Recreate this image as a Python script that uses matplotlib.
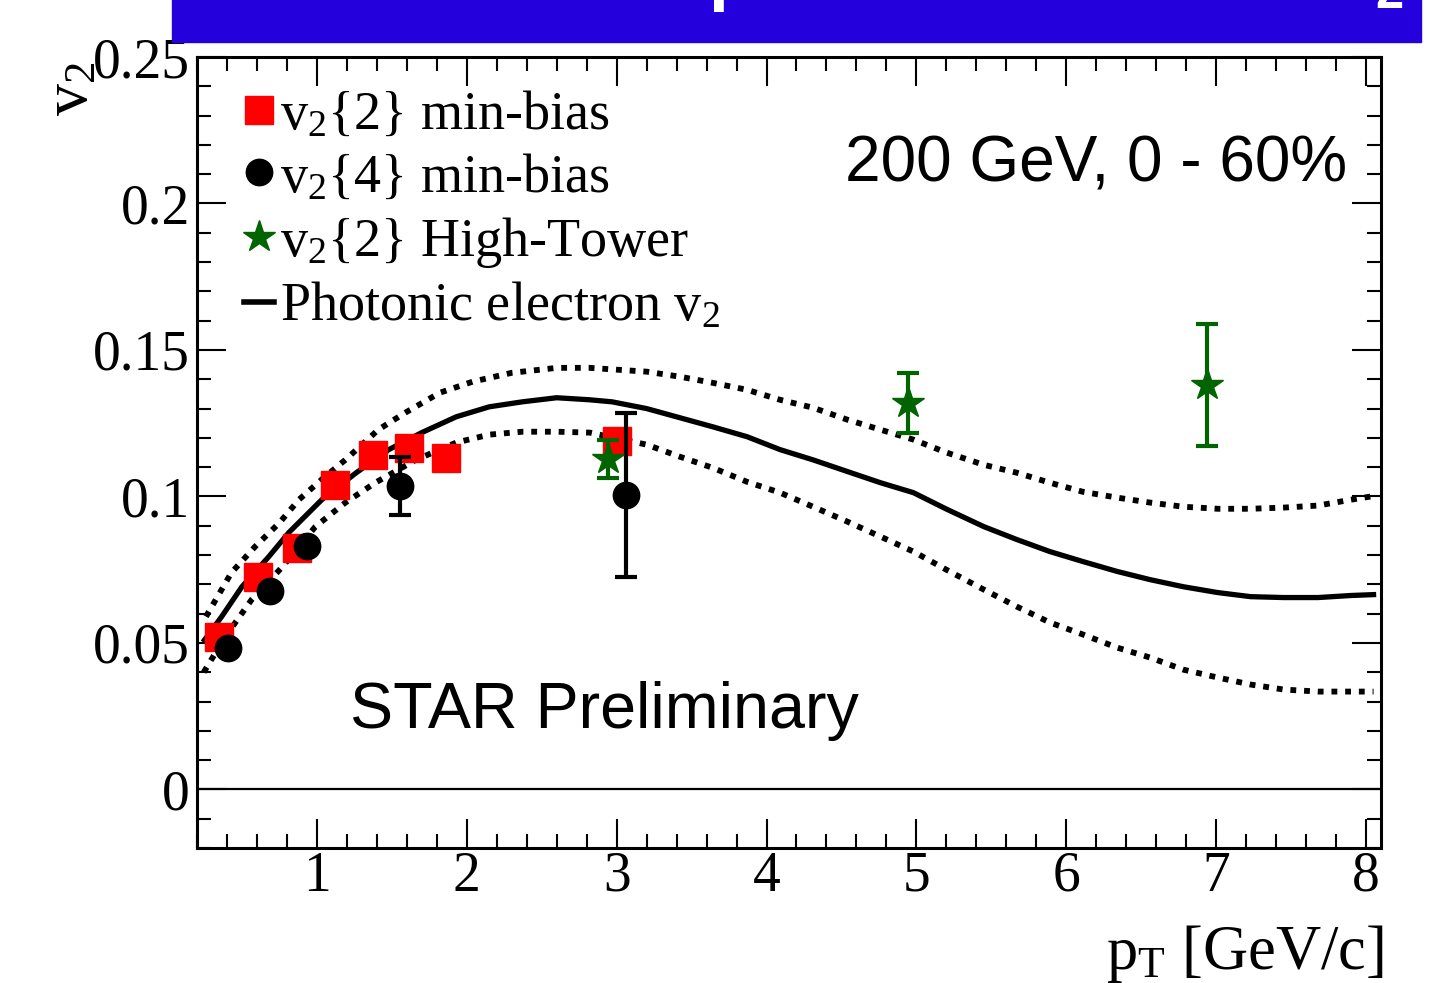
import matplotlib
matplotlib.use("Agg")
import matplotlib.pyplot as plt
from matplotlib.patches import Rectangle
from matplotlib.lines import Line2D

plt.rcParams['font.family'] = ['Liberation Serif', 'DejaVu Serif']
plt.rcParams['mathtext.default'] = 'regular'

# v2{2} min-bias (red squares)
mb2_pt = [0.345, 0.606, 0.866, 1.12, 1.374, 1.615, 1.86, 3.0]
mb2_v2 = [0.0522, 0.0726, 0.0825, 0.104, 0.114, 0.1166, 0.113, 0.119]

# v2{4} min-bias (black circles)
mb4_pt = [0.41, 0.686, 0.933, 1.555, 3.06]
mb4_v2 = [0.0484, 0.0679, 0.0832, 0.1037, 0.1004]
mb4_err = [0.0, 0.0, 0.0, 0.0099, 0.028]

# v2{2} High-Tower (green stars)
ht_pt = [2.94, 4.944, 6.94]
ht_v2 = [0.1129, 0.132, 0.138]
ht_err = [0.0065, 0.0102, 0.0208]

# photonic electron v2 band
phe_pt = [0.25, 0.365, 0.50, 0.68, 0.813, 1.033, 1.26, 1.48, 1.70, 1.93, 2.15,
          2.37, 2.60, 2.82, 2.97, 3.20, 3.42, 3.64, 3.87, 4.09, 4.31, 4.54, 4.76,
          4.98, 5.20, 5.45, 5.67, 5.89, 6.11, 6.34, 6.56, 6.78, 7.01, 7.23, 7.45,
          7.68, 7.90, 8.05]
phe_v2 = [0.051, 0.059, 0.0692, 0.0795, 0.0877, 0.0989, 0.108, 0.116, 0.1218,
          0.1272, 0.1306, 0.1323, 0.1337, 0.133, 0.1323, 0.130, 0.1269, 0.1238,
          0.1204, 0.116, 0.1125, 0.1085, 0.1047, 0.1013, 0.0957, 0.0897, 0.0853,
          0.0812, 0.0778, 0.0744, 0.0716, 0.0692, 0.0672, 0.0658, 0.0655, 0.0655,
          0.0662, 0.0665]

up_pt = [0.26, 0.43, 0.59, 0.75, 0.88, 1.03, 1.19, 1.41, 1.59, 1.82, 2.04, 2.30,
         2.60, 2.82, 3.20, 3.42, 3.64, 3.87, 4.09, 4.31, 4.54, 4.76, 4.98, 5.20,
         5.45, 5.67, 5.89, 6.11, 6.34, 6.56, 6.78, 7.01, 7.23, 7.45, 7.68, 7.90, 8.07]
up_v2 = [0.059, 0.074, 0.083, 0.091, 0.0989, 0.1057, 0.1125, 0.1228, 0.1286,
         0.1354, 0.1392, 0.1422, 0.1439, 0.1439, 0.1426, 0.1409, 0.1388, 0.1364,
         0.133, 0.1303, 0.1262, 0.1228, 0.1194, 0.115, 0.1108, 0.1081, 0.1047,
         0.1016, 0.0996, 0.0979, 0.0965, 0.0958, 0.0958, 0.0962, 0.0969, 0.0989, 0.1003]

lo_pt = [0.245, 0.39, 0.565, 0.77, 0.99, 1.19, 1.39, 1.66, 1.93, 2.15, 2.37, 2.60,
         2.82, 3.20, 3.42, 3.64, 3.87, 4.09, 4.31, 4.54, 4.76, 4.98, 5.20, 5.45,
         5.67, 5.89, 6.11, 6.34, 6.56, 6.78, 7.01, 7.23, 7.45, 7.68, 7.90, 8.05]
lo_v2 = [0.040, 0.0522, 0.0648, 0.076, 0.0897, 0.0979, 0.1047, 0.1125, 0.1184,
         0.1211, 0.1221, 0.1221, 0.1218, 0.1177, 0.1136, 0.1098, 0.105, 0.1013,
         0.0965, 0.0914, 0.0863, 0.0812, 0.075, 0.0682, 0.0624, 0.057, 0.0529,
         0.0484, 0.045, 0.0409, 0.0382, 0.0358, 0.0341, 0.0334, 0.0334, 0.0334]

xticks = [1, 2, 3, 4, 5, 6, 7, 8]
yticks = [0, 0.05, 0.1, 0.15, 0.2, 0.25]
ytick_labels = ['0', '0.05', '0.1', '0.15', '0.2', '0.25']

fig = plt.figure(figsize=(14.44, 9.83), dpi=100)
ax = fig.add_axes([0.1364, 0.1373, 0.82, 0.8047])

# blue title banner at the top (text mostly cut off, as in the slide)
fig.patches.append(Rectangle((0.119, 0.957), 0.865, 0.05, transform=fig.transFigure,
                             color='#2300DC', zorder=0))
fig.text(0.377, 1.003, 'Non-photonic electron v$_2$', color='white', fontsize=52,
         family='Liberation Sans', weight='bold', ha='left', va='baseline')

ax.axhline(0, color='black', lw=1.6, zorder=1)

ax.plot(phe_pt, phe_v2, '-', color='black', lw=3.8, zorder=2)
ax.plot(up_pt, up_v2, color='black', lw=4.2, ls=(0, (1, 1.35)), zorder=2)
ax.plot(lo_pt, lo_v2, color='black', lw=4.2, ls=(0, (1, 1.35)), zorder=2)

ax.plot(mb2_pt, mb2_v2, 's', color='red', ms=20, mec='red', zorder=3)

ax.errorbar(mb4_pt, mb4_v2, yerr=mb4_err, fmt='none', ecolor='black', elinewidth=3,
            capsize=8, capthick=3, zorder=4)
ax.plot(mb4_pt, mb4_v2, 'o', color='black', ms=19, zorder=4)

ax.errorbar(ht_pt, ht_v2, yerr=ht_err, fmt='none', ecolor='#006400', elinewidth=3,
            capsize=8, capthick=3, zorder=5)
ax.plot(ht_pt, ht_v2, '*', color='#006400', ms=24, zorder=5)

ax.set_xlim(0.2, 8.1)
ax.set_ylim(-0.02, 0.25)
ax.set_xticks(xticks)
ax.set_xticklabels([str(t) for t in xticks])
ax.set_yticks(yticks)
ax.set_yticklabels(ytick_labels)
ax.set_xticks([0.2 * i for i in range(1, 41)], minor=True)
ax.set_yticks([-0.02 + 0.01 * i for i in range(28)], minor=True)
ax.tick_params(which='both', direction='in', top=True, right=True, width=1.5)
ax.tick_params(which='major', length=21, labelsize=40)
ax.tick_params(which='minor', length=10)
ax.tick_params(axis='x', pad=2)
ax.tick_params(axis='y', pad=5)
for s in ax.spines.values():
    s.set_linewidth(2.2)

fig.text(0.05, 0.91, 'v$_2$', rotation=90, fontsize=46, ha='center', va='center')
fig.text(0.958, 0.014, 'p$_T$ [GeV/c]', fontsize=45, ha='right', va='baseline')

ax.text(0.547, 0.842, '200 GeV, 0 - 60%', transform=ax.transAxes, fontsize=46,
        family='Liberation Sans', va='baseline')
ax.text(0.129, 0.152, 'STAR Preliminary', transform=ax.transAxes, fontsize=46.5,
        family='Liberation Sans', va='baseline')

handles = [
    Line2D([], [], ls='none', marker='s', color='red', ms=20),
    Line2D([], [], ls='none', marker='o', color='black', ms=19),
    Line2D([], [], ls='none', marker='*', color='#006400', ms=24),
    Line2D([], [], ls='-', color='black', lw=4),
]
labels = ['v$_2${2} min-bias', 'v$_2${4} min-bias', 'v$_2${2} High-Tower',
          'Photonic electron v$_2$']
ax.legend(handles, labels, loc='upper left', bbox_to_anchor=(0.040, 0.958),
          frameon=False, fontsize=39, handlelength=0.55, handletextpad=0.1,
          labelspacing=0.22, borderpad=0, borderaxespad=0)

fig.savefig('out.png', dpi=100)
